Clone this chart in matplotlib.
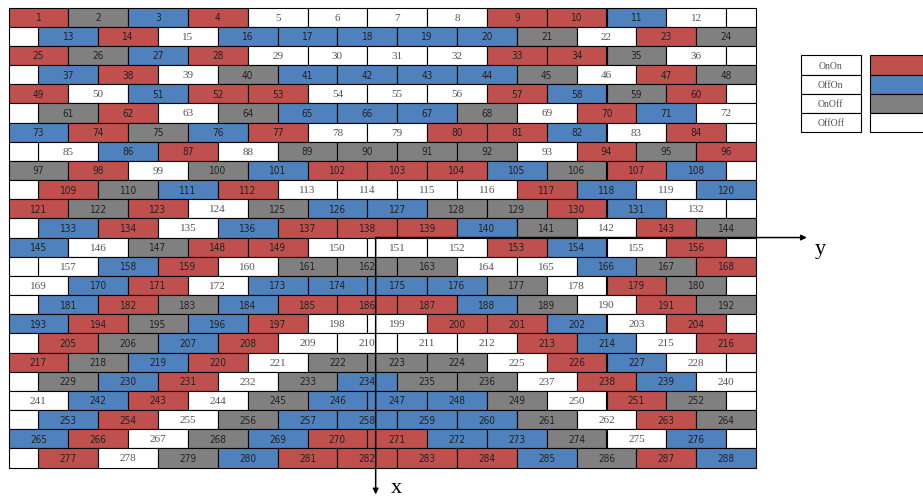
import matplotlib.pyplot as plt

# cell states, row by row, left to right (R=OnOn, B=OffOn, G=OnOff, W=OffOff)
rows = [
    "RGBRWWWWRRBW",
    "BRWBBBBBGWRG",
    "RGBRWWWWRRGW",
    "BRWGBBBBGWRG",
    "RWBRRWWWRBGR",
    "GRWGBBBGWRBW",
    "BRGBRWWRRBWR",
    "WBRWGGGGWRGR",
    "GRWGBRRRBGRB",
    "RGBRWWWWRBWB",
    "RGRWGBBGGRBW",
    "BRWBRRRBGWRG",
    "BWGRRWWWRBWR",
    "WBRWGGGWWBGR",
    "WBRWBBBBGWRG",
    "BRGBRRRBGWRG",
    "BRGBRWWRRBWR",
    "RGBRWWWWRBWR",
    "RGBRWGGGWRBW",
    "GBRWGBGGWRBW",
    "WBRWGBBBGWRG",
    "BRWGBBBBGWRG",
    "BRWGBRRBBGWB",
    "RWGBRRRRBGRB",
]
states = ['OnOn', 'OffOn', 'OnOff', 'OffOff']
state_codes = ['R', 'B', 'G', 'W']
state_colors = ['#C0504D', '#4F81BD', '#808080', '#FFFFFF']
color_of = dict(zip(state_codes, state_colors))

# pixel size of one cell
cw, rh = 59.8, 19.17
px0, py0 = 8.5, 8.5

fig = plt.figure(figsize=(9.23, 5.02), dpi=100)
ax = fig.add_axes([0, 0, 1, 1])
ax.set_xlim(-px0 / cw, (923 - px0) / cw)
ax.set_ylim((502 - py0) / rh, -py0 / rh)
ax.axis('off')

n = 1
for r, row in enumerate(rows):
    offset = 0 if r % 2 == 0 else 0.5
    lefts = [offset + k for k in range(len(row))]
    ax.barh([r + 0.5] * len(row), [1] * len(row), left=lefts, height=1,
            color=[color_of[c] for c in row], edgecolor='black', linewidth=0.8)
    # half-width blank cell at the end of the brick row
    ax.barh(r + 0.5, 0.5, left=12 if r % 2 == 0 else 0, height=1,
            color='white', edgecolor='black', linewidth=0.8)
    for left, c in zip(lefts, row):
        if c == 'W':
            ax.text(left + 0.5, r + 0.5, str(n), ha='center', va='center',
                    fontsize=8, color='#555555', family='Liberation Serif')
        else:
            ax.text(left + 0.5, r + 0.5, str(n), ha='center', va='center',
                    fontsize=7.2, color='#222222', fontstretch='condensed',
                    family=['Liberation Sans Narrow', 'DejaVu Sans'])
        n += 1

# legend table
for i, (name, col) in enumerate(zip(states, state_colors)):
    ax.barh(2.5 + i + 0.5, 1, left=13.25, height=1, color='white',
            edgecolor='black', linewidth=0.8)
    ax.text(13.75, 3.0 + i, name, ha='center', va='center', fontsize=7,
            color='#555555', family='Liberation Serif')
    ax.barh(2.5 + i + 0.5, 1, left=14.4, height=1, color=col,
            edgecolor='black', linewidth=0.8, clip_on=False)

# axis arrows
ax.annotate('', xy=(13.35, 12.0), xytext=(6.14, 12.0),
            arrowprops=dict(arrowstyle='-|>', color='black', lw=1.1,
                            mutation_scale=8, shrinkA=0, shrinkB=0), zorder=5)
ax.annotate('', xy=(6.14, 25.4), xytext=(6.14, 12.0),
            arrowprops=dict(arrowstyle='-|>', color='black', lw=1.1,
                            mutation_scale=8, shrinkA=0, shrinkB=0), zorder=5)
ax.text(13.58, 12.55, 'y', ha='center', va='center', fontsize=16,
        family='Liberation Serif')
ax.text(6.48, 25.05, 'x', ha='center', va='center', fontsize=16,
        family='Liberation Serif')

fig.savefig('out.png', dpi=100)
